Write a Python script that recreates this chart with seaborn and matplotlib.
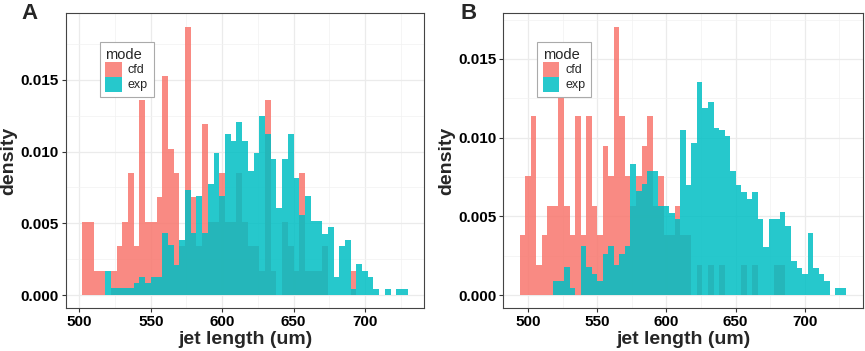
import numpy as np
import pandas as pd
import matplotlib
matplotlib.use('Agg')
import matplotlib.pyplot as plt
import seaborn as sns
from matplotlib.patches import Patch
from matplotlib.ticker import MultipleLocator

# histogram bins are 4 um wide; first edge of each panel
bin_width = 4
a_first_edge = 502
b_first_edge = 494

# panel A densities per bin (502..730)
cfd_a = [0.0051, 0.0051, 0.0017, 0.0017, 0, 0.0017, 0.0034, 0.0051, 0.0085, 0.0034,
         0.0136, 0.0051, 0.0051, 0.0068, 0.0153, 0.0102, 0.0085, 0.0034, 0.0187, 0.0068,
         0.0034, 0.0119, 0.0051, 0.0051, 0.0085, 0.0051, 0.0051, 0.0085, 0.0051, 0.0034,
         0.0034, 0.0017, 0.0136, 0.0017, 0, 0.0051, 0.0034, 0.0017, 0.0085, 0.0017,
         0.0017, 0.0017, 0.0034, 0, 0, 0, 0, 0.0017, 0, 0,
         0, 0, 0, 0, 0, 0, 0]
exp_a = [0, 0, 0, 0, 0.00167, 0.00047, 0.00047, 0.00047, 0.00047, 0.00081,
         0.00128, 0.00086, 0.00128, 0.00128, 0.0043, 0.00349, 0.00209, 0.00384, 0.00733, 0.00435,
         0.00693, 0.00435, 0.00774, 0.00993, 0.00693, 0.01123, 0.01077, 0.01207, 0.01077, 0.00867,
         0.00993, 0.01251, 0.01123, 0.00947, 0.00605, 0.00947, 0.01123, 0.00819, 0.00558, 0.0069,
         0.00516, 0.00516, 0.00428, 0.00474, 0.00123, 0.00342, 0.00384, 0.0004, 0.00214, 0.0017,
         0.00123, 0.0004, 0, 0.0004, 0, 0.0004, 0.0004]

# panel B densities per bin (494..730)
cfd_b = [0.00379, 0.00758, 0.01136, 0.00189, 0.00379, 0.00568, 0.00568, 0.01326, 0.00568, 0.00379,
         0.01136, 0.00379, 0.01136, 0.00568, 0.00379, 0.00947, 0.00758, 0.01705, 0.01136, 0.00758,
         0.00568, 0.00758, 0.00947, 0.01136, 0.00568, 0.00758, 0.00379, 0.00379, 0.00568, 0.00379,
         0.00379, 0, 0.00189, 0, 0.00189, 0, 0.00189, 0, 0, 0,
         0.00189, 0, 0.00189, 0, 0, 0, 0.00189, 0.00189, 0, 0,
         0, 0, 0, 0, 0, 0, 0, 0, 0]
exp_b = [0, 0, 0, 0, 0, 0, 0.00089, 0.00089, 0.00177, 0.00046,
         0, 0.0031, 0.00177, 0.00131, 0.00089, 0.00264, 0.0031, 0.00194, 0.00264, 0.0031,
         0.00832, 0.00659, 0.00708, 0.0079, 0.0079, 0.00568, 0.00568, 0.00522, 0.00484, 0.0105,
         0.00701, 0.00965, 0.01356, 0.01187, 0.01229, 0.0106, 0.0105, 0.01008, 0.00786, 0.00701,
         0.00653, 0.0061, 0.00653, 0.00484, 0.00306, 0.00484, 0.00484, 0.00526, 0.00437, 0.00215,
         0.00173, 0.00131, 0.00395, 0.00173, 0.00131, 0.00089, 0, 0.00046, 0.00046]

modes = ['cfd', 'exp']
colors = {'cfd': '#F8766D', 'exp': '#00BFC4'}

sns.set_theme(style='white')
plt.rcParams['font.family'] = ['Liberation Sans', 'DejaVu Sans']


def make_df(first_edge, cfd, exp):
    n = len(cfd)
    centers = first_edge + bin_width * (np.arange(n) + 0.5)
    return pd.DataFrame({'length': np.concatenate([centers, centers]),
                         'density': cfd + exp,
                         'mode': ['cfd'] * n + ['exp'] * n})


def draw(ax, df, first_edge):
    n = len(df) // 2
    last_edge = first_edge + bin_width * n
    # ggplot order: cfd first, exp on top
    for m in modes:
        sns.histplot(data=df[df['mode'] == m], x='length', weights='density',
                     binwidth=bin_width, binrange=(first_edge, last_edge),
                     stat='count', color=colors[m], alpha=0.85,
                     linewidth=0, ax=ax)
    # ggplot default 5% expansion
    span = last_edge - first_edge
    ax.set_xlim(first_edge - 0.05 * span, last_edge + 0.05 * span)
    top = df['density'].max()
    ax.set_ylim(-0.05 * top, 1.05 * top)

    ax.xaxis.set_major_locator(MultipleLocator(50))
    ax.xaxis.set_minor_locator(MultipleLocator(25))
    ax.yaxis.set_major_locator(MultipleLocator(0.005))
    ax.yaxis.set_minor_locator(MultipleLocator(0.0025))
    ax.set_axisbelow(True)
    ax.grid(which='major', color='#EBEBEB', lw=0.9)
    ax.grid(which='minor', color='#F2F2F2', lw=0.5)
    for s in ax.spines.values():
        s.set_color('#444444')
        s.set_linewidth(0.8)
    ax.tick_params(which='major', direction='out', length=3, width=0.8,
                   color='#333333', labelcolor='black', labelsize=11, pad=2,
                   bottom=True, left=True)
    ax.tick_params(which='minor', length=0)
    xt = [500, 550, 600, 650, 700]
    ax.set_xticks(xt)
    ax.set_xticklabels([str(v) for v in xt], fontweight='bold')
    yt = [0, 0.005, 0.01, 0.015]
    ax.set_yticks(yt)
    ax.set_yticklabels(['%.3f' % v for v in yt], fontweight='bold')
    ax.set_xlabel('jet length (um)', fontsize=14, fontweight='bold')
    ax.set_ylabel('density', fontsize=14, fontweight='bold')

    handles = [Patch(facecolor=colors[m], alpha=0.85, linewidth=0) for m in modes]
    leg = ax.legend(handles, modes, title='mode', loc='upper left',
                    bbox_to_anchor=(0.094, 0.902), borderaxespad=0,
                    fontsize=9, title_fontsize=10.5,
                    frameon=True, fancybox=False, edgecolor='#AAAAAA', framealpha=1,
                    handlelength=1.3, handleheight=1.45, handletextpad=0.5,
                    labelspacing=0.0, borderpad=0.45, alignment='left')
    leg.get_frame().set_linewidth(0.8)


fig = plt.figure(figsize=(8.65, 3.51), dpi=100)
ax_a = fig.add_axes([0.0763, 0.1211, 0.4139, 0.841])
ax_b = fig.add_axes([0.5819, 0.1211, 0.4155, 0.841])

draw(ax_a, make_df(a_first_edge, cfd_a, exp_a), a_first_edge)
draw(ax_b, make_df(b_first_edge, cfd_b, exp_b), b_first_edge)

for ax in (ax_a, ax_b):
    ax.xaxis.set_label_coords(0.5, -0.075)
ax_a.yaxis.set_label_coords(-0.135, 0.5)
ax_b.yaxis.set_label_coords(-0.135, 0.5)

fig.text(21 / 865, 1 - 3 / 351, 'A', ha='left', va='top', fontsize=16, fontweight='bold')
fig.text(461 / 865, 1 - 3 / 351, 'B', ha='left', va='top', fontsize=16, fontweight='bold')

fig.savefig('out.png', dpi=100)
